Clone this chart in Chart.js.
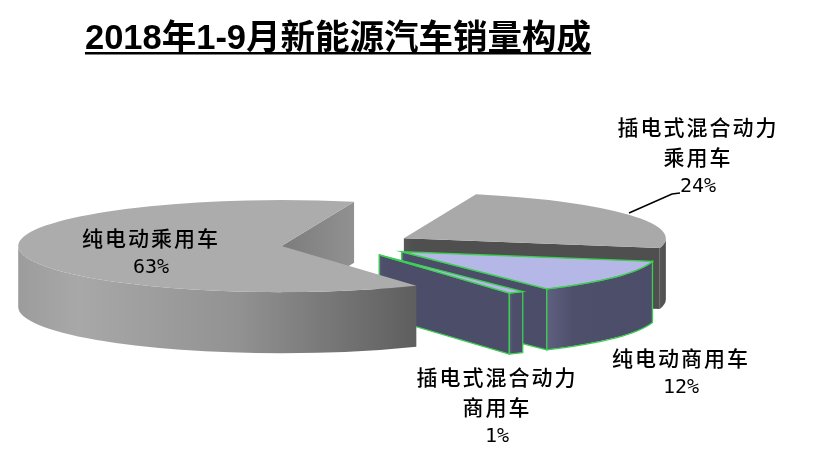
<!DOCTYPE html>
<html>
<head>
<meta charset="utf-8">
<style>
  html, body { margin: 0; background: #fff; }
  #wrap { width: 814px; height: 467px; }
</style>
<script src="https://cdn.jsdelivr.net/npm/chart.js@4"></script>
</head>
<body>
<div id="wrap"><canvas id="myChart" width="814" height="467"></canvas></div>
<script>
// data block
const chartTitle = '2018年1-9月新能源汽车销量构成';
const categories = ['插电式混合动力乘用车', '纯电动商用车', '插电式混合动力商用车', '纯电动乘用车'];
const labelLines = [['插电式混合动力', '乘用车'], ['纯电动商用车'], ['插电式混合动力', '商用车'], ['纯电动乘用车']];
const shares = [24, 12, 1, 63];

// style block
const topColors = ['#a9a9a9', '#b5b7e6', '#b5b7e6', '#acacac'];
const edgeColors = ['transparent', '#3ccf52', '#3ccf52', 'transparent'];
const sliceOffsets = [72, 72, 69, 61];
const radiusTrim = [1, 0.98, 0.97, 1.005];
const labelAnchors = [[698, 127], [681, 358], [497, 377], [151, 238]];
const tilt = 0.175;
const depth = 61;
const pieShiftX = 4; // the title sits a little left of the pie centre

const wallFill = (ctx, i, x0, x1) => {
    const g = ctx.createLinearGradient(x0, 0, x1, 0);
    if (i === 3) {
        g.addColorStop(0, '#9c9c9c');
        g.addColorStop(0.15, '#a8a8a8');
        g.addColorStop(0.55, '#929292');
        g.addColorStop(1, '#5e5e5e');
    } else if (i === 0) {
        g.addColorStop(0, '#575757');
        g.addColorStop(1, '#4f4f4f');
    } else {
        g.addColorStop(0, '#5f6080');
        g.addColorStop(0.25, '#4e4f6b');
        g.addColorStop(1, '#4c4d68');
    }
    return g;
};

// walls and top of one slice, in picture space
const drawSlice = (chart, arc, i) => {
    const ctx = chart.ctx;
    const { x, y, startAngle, endAngle } = arc;
    const mid = (startAngle + endAngle) / 2;
    const cx = x + pieShiftX + Math.cos(mid) * sliceOffsets[i];
    const cy = y + Math.sin(mid) * sliceOffsets[i] * tilt;
    const r = arc.outerRadius * radiusTrim[i];
    const ry = r * tilt;
    const edge = arc.options.borderColor;
    const rim = a => [cx + Math.cos(a) * r, cy + Math.sin(a) * ry];

    const outline = () => {
        if (edge === 'transparent') return;
        ctx.strokeStyle = edge;
        ctx.lineWidth = 1.3;
        ctx.stroke();
    };

    // flat cut faces that look towards the viewer
    [[startAngle, Math.cos(startAngle) < 0], [endAngle, Math.cos(endAngle) > 0]].forEach(([a, shown]) => {
        if (!shown) return;
        const [px, py] = rim(a);
        ctx.beginPath();
        ctx.moveTo(cx, cy);
        ctx.lineTo(px, py);
        ctx.lineTo(px, py + depth);
        ctx.lineTo(cx, cy + depth);
        ctx.closePath();
        if (i === 3) {
            const g = ctx.createLinearGradient(cx, 0, px, 0);
            g.addColorStop(0, '#7c7c7c');
            g.addColorStop(1, '#919191');
            ctx.fillStyle = g;
        } else {
            ctx.fillStyle = wallFill(ctx, i === 0 ? 0 : 2, cx, cx + 10);
        }
        ctx.fill();
        outline();
    });

    // outer rim, only the front half shows
    const a0 = Math.max(startAngle, 0);
    const a1 = Math.min(endAngle, Math.PI);
    if (a1 > a0) {
        const [lx] = rim(a1);
        const [rx] = rim(a0);
        ctx.beginPath();
        ctx.ellipse(cx, cy, r, ry, 0, a0, a1);
        ctx.ellipse(cx, cy + depth, r, ry, 0, a1, a0, true);
        ctx.closePath();
        ctx.fillStyle = wallFill(ctx, i, Math.min(lx, rx), Math.max(lx, rx));
        ctx.fill();
        outline();
    }

    // top face: the library's own arc, squashed
    ctx.save();
    ctx.translate(cx, cy);
    ctx.scale(radiusTrim[i], tilt * radiusTrim[i]);
    ctx.translate(-x, -y);
    arc.draw(ctx);
    ctx.restore();

    ctx.beginPath();
    ctx.moveTo(cx, cy);
    ctx.ellipse(cx, cy, r, ry, 0, startAngle, endAngle);
    ctx.closePath();
    outline();
};

const chartFont = 'bold 34.5px "Liberation Sans", "Noto Sans CJK SC"';

const pie3d = {
    id: 'pie3d',
    beforeDatasetsDraw(chart) {
        chart.getDatasetMeta(0).data.forEach((arc, i) => drawSlice(chart, arc, i));
        return false;
    },
    afterDraw(chart) {
        const ctx = chart.ctx;
        ctx.save();
        ctx.fillStyle = '#000';
        ctx.textAlign = 'center';
        ctx.textBaseline = 'middle';
        shares.forEach((v, i) => {
            const [ax, ay] = labelAnchors[i];
            ctx.font = '500 21px "Noto Sans CJK SC"';
            ctx.letterSpacing = '2px';
            labelLines[i].forEach((line, n) => ctx.fillText(line, ax, ay + n * 30));
            ctx.letterSpacing = '0px';
            ctx.font = '20px "DejaVu Sans Mono"';
            ctx.fillText(v + '%', ax, ay + labelLines[i].length * 30);
        });

        // leader line of the 24% label
        ctx.strokeStyle = '#000';
        ctx.lineWidth = 1.5;
        ctx.beginPath();
        ctx.moveTo(629, 213);
        ctx.lineTo(672, 194);
        ctx.lineTo(680, 193);
        ctx.stroke();

        // title underline
        const tb = chart.titleBlock;
        ctx.font = chartFont;
        const w = ctx.measureText(chartTitle).width;
        const mx = tb.left + tb.width / 2;
        ctx.fillRect(mx - w / 2, 52, w, 2.5);
        ctx.restore();
    }
};

// config block
const config = {
    type: 'pie',
    data: {
        labels: categories,
        datasets: [{
            data: shares,
            backgroundColor: topColors,
            borderColor: edgeColors,
            borderWidth: 0
        }]
    },
    options: {
        responsive: false,
        animation: false,
        rotation: 16,
        radius: 262,
        layout: { padding: { left: 0, right: 138, top: 0, bottom: 41 } },
        plugins: {
            legend: { display: false },
            tooltip: { enabled: false },
            title: {
                display: true,
                text: chartTitle,
                color: '#000',
                fullSize: false,
                font: { family: '"Liberation Sans", "Noto Sans CJK SC"', size: 34.5, weight: 'bold', lineHeight: 1.2 },
                padding: { top: 19, bottom: 3 }
            }
        }
    },
    plugins: [pie3d]
};

// init render block
const myChart = new Chart(document.getElementById('myChart'), config);
</script>
</body>
</html>
